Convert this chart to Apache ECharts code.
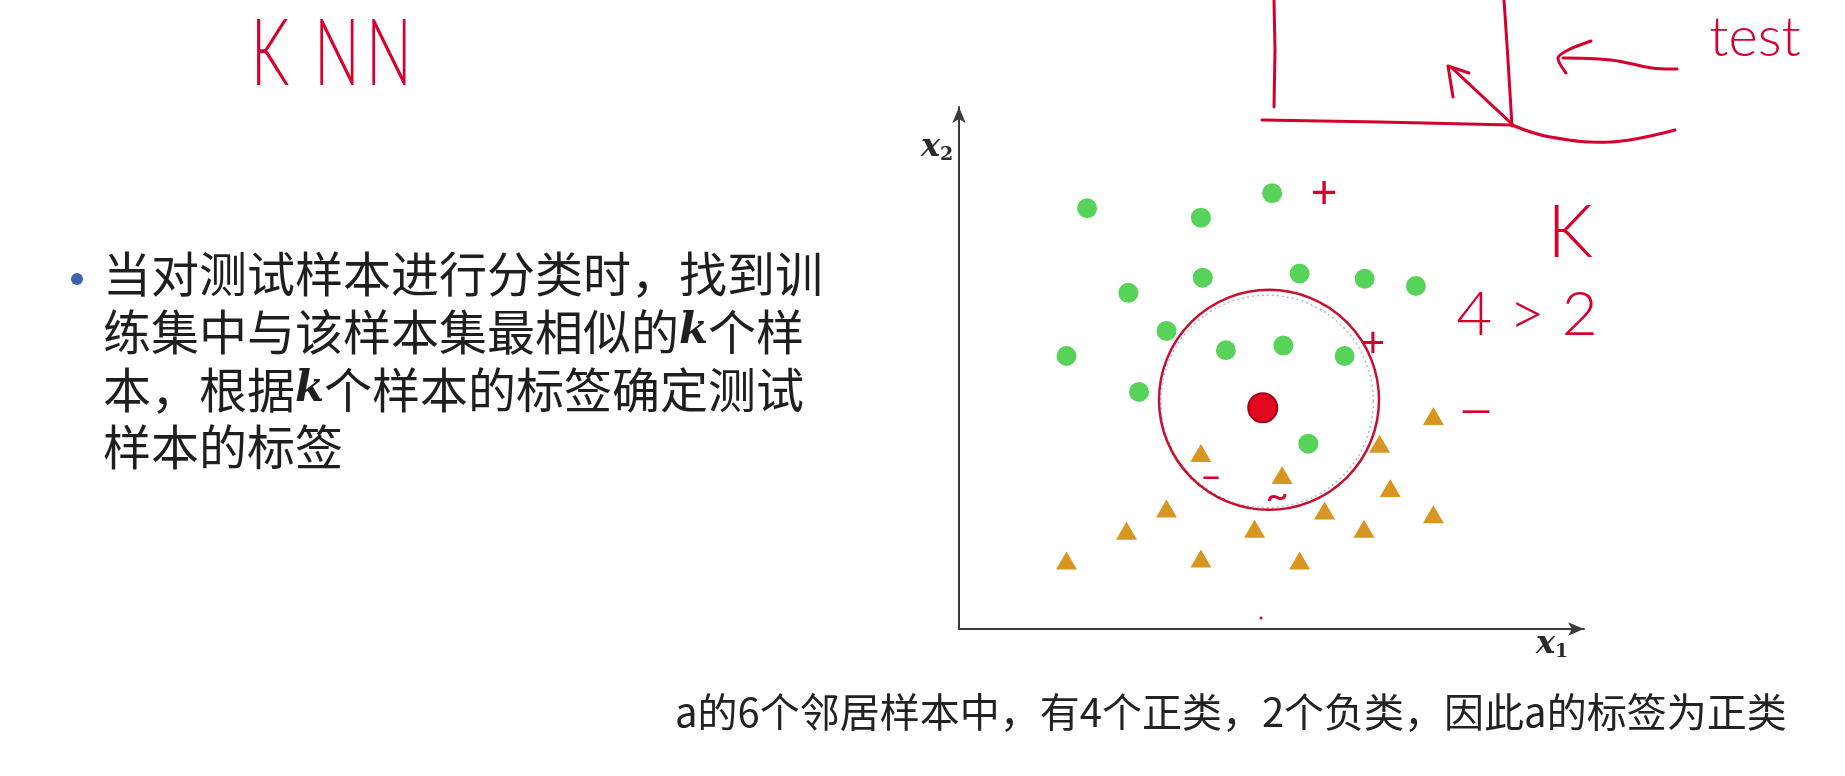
<!DOCTYPE html>
<html><head><meta charset="utf-8">
<script src="https://cdn.jsdelivr.net/npm/echarts@6/dist/echarts.min.js"></script>
<style>html,body{margin:0;padding:0;background:#fff;}#c{width:1845px;height:776px;}</style>
</head><body><div id="c"></div>
<script>
// ---- data (feature space x1, x2) ----
const positiveSamples = [
  [2.05,8.06],[3.87,7.88],[5.01,8.35],[2.71,6.44],[3.90,6.73],[5.45,6.81],[6.49,6.71],[7.31,6.57],
  [3.32,5.71],[1.72,5.23],[4.27,5.34],[5.19,5.43],[6.17,5.23],[2.88,4.54],[5.59,3.55]
];
const negativeSamples = [
  [7.59,4.08],[3.87,3.37],[6.73,3.55],[5.17,2.95],[6.90,2.70],[3.32,2.31],[5.85,2.27],
  [2.68,1.88],[4.73,1.92],[6.48,1.92],[7.59,2.20],[1.72,1.31],[3.87,1.35],[5.45,1.31]
];
const testSample = [[4.86,4.24]];
const neighbourCenter = [4.96,4.39];
const neighbourRadius = 1.76;
const dottedCenter = [4.93,4.36];
const dottedRadius = 1.70;

const bulletLines = [
  '当对测试样本进行分类时，找到训',
  '练集中与该样本集最相似的{k|k}个样',
  '本，根据{k|k}个样本的标签确定测试',
  '样本的标签'
];
const caption = 'a的6个邻居样本中，有4个正类，2个负类，因此a的标签为正类';

const RED = '#d6002d';
const chart = echarts.init(document.getElementById('c'), null, {renderer:'canvas'});

const axisCommon = {
  type:'value', min:0, max:10,
  axisLine:{show:true, onZero:false, symbol:['none','arrow'], symbolSize:[10,16], lineStyle:{color:'#3a3a3a', width:2}},
  axisTick:{show:false}, axisLabel:{show:false}, splitLine:{show:false}
};

chart.setOption({
  backgroundColor:'#ffffff',
  animation:false,
  grid:{left:959, top:107, width:625, height:522},
  xAxis:axisCommon,
  yAxis:axisCommon,
  series:[
    {type:'scatter', name:'+', data:positiveSamples, symbol:'circle', symbolSize:20, itemStyle:{color:'#58d35a', opacity:1}, z:3},
    {type:'scatter', name:'-', data:negativeSamples, symbol:'triangle', symbolSize:[21,18], itemStyle:{color:'#d8951f', opacity:1}, z:3},
    {type:'scatter', name:'test', data:testSample, symbol:'circle', symbolSize:29, itemStyle:{color:'#e2081f', borderColor:'#a8001a', borderWidth:2, opacity:1}, z:4}
  ]
});

const c1 = chart.convertToPixel({gridIndex:0}, neighbourCenter);
const e1 = chart.convertToPixel({gridIndex:0}, [neighbourCenter[0]+neighbourRadius, neighbourCenter[1]]);
const c2 = chart.convertToPixel({gridIndex:0}, dottedCenter);
const e2 = chart.convertToPixel({gridIndex:0}, [dottedCenter[0]+dottedRadius, dottedCenter[1]]);

const cjk = '"Noto Sans CJK SC", "Noto Sans", sans-serif';
const hand = 'Lato, "DejaVu Sans", sans-serif';
function stroke(points, smooth){
  return {type:'polyline', silent:true, z:10, shape:{points:points, smooth:smooth||0},
    style:{stroke:RED, lineWidth:3, fill:null, lineCap:'round', lineJoin:'round'}};
}
function handText(t, x, y, size, extra, weight){
  return Object.assign({type:'text', silent:true, z:10, x:x, y:y,
    style:{text:t, fill:RED, fontSize:size, fontFamily:hand, fontWeight:weight||300, align:'center', verticalAlign:'middle'}}, extra||{});
}

const lineYs = [274, 332, 390, 447];
const axisNameRich = {
  x:{fontFamily:'"DejaVu Serif", serif', fontStyle:'italic', fontWeight:'bold', fontSize:32, fill:'#2a2a2a'},
  s:{fontFamily:'"DejaVu Serif", serif', fontWeight:'bold', fontSize:19, fill:'#2a2a2a', padding:[14,0,0,0]}
};
const graphics = [
  {type:'circle', silent:true, z:2, shape:{cx:c2[0], cy:c2[1], r:e2[0]-c2[0]}, style:{fill:null, stroke:'#b3bad0', lineWidth:1.5, lineDash:[2,3]}},
  {type:'circle', silent:true, z:5, shape:{cx:c1[0], cy:c1[1], r:e1[0]-c1[0]}, style:{fill:null, stroke:'#c8102e', lineWidth:2.5}},
  // bullet
  {type:'circle', silent:true, shape:{cx:77, cy:279, r:6}, style:{fill:'#3d63ae'}},
  // axis names
  {type:'text', silent:true, x:921, y:148, style:{text:'{x|x}{s|2}', verticalAlign:'middle', rich:axisNameRich}},
  {type:'text', silent:true, x:1536, y:645, style:{text:'{x|x}{s|1}', verticalAlign:'middle', rich:axisNameRich}},
  // caption
  {type:'text', silent:true, x:675, y:712, style:{text:caption, fontFamily:cjk, fontSize:40, fill:'#222', verticalAlign:'middle'}},
  // handwriting strokes
  stroke([[1274,0],[1275,50],[1274,107]]),
  stroke([[1262,120],[1380,122],[1512,125]]),
  stroke([[1504,0],[1508,60],[1512,126]]),
  stroke([[1512,125],[1550,137],[1611,142],[1675,130]], 0.4),
  stroke([[1512,124],[1482,96],[1452,68]], 0.3),
  stroke([[1453,97],[1448,66],[1469,73]]),
  stroke([[1563,58],[1611,60],[1652,68],[1677,69]], 0.4),
  stroke([[1591,41],[1568,50],[1558,58],[1566,73]], 0.3),
  {type:'circle', silent:true, shape:{cx:1261, cy:618, r:1.5}, style:{fill:RED}},
  // handwriting text
  handText('K', 270, 55, 92, {scaleX:0.66}),
  handText('N', 337, 55, 92, {scaleX:0.66}),
  handText('N', 389, 55, 92, {scaleX:0.66}),
  handText('test', 1755, 38, 56),
  handText('+', 1324, 193, 46, null, 400),
  handText('K', 1570, 234, 72),
  handText('4 > 2', 1527, 315, 62),
  handText('+', 1373, 343, 42, null, 400),
  handText('—', 1476, 411, 40, null, 400),
  handText('–', 1211, 477, 38, null, 400),
  handText('~', 1277, 496, 40, null, 400)
];
bulletLines.forEach(function(t, i){
  graphics.push({type:'text', silent:true, x:103, y:lineYs[i], style:{text:t, fontFamily:cjk, fontSize:48, fill:'#1e1e1e', verticalAlign:'middle',
    rich:{k:{fontFamily:'"DejaVu Serif", serif', fontStyle:'italic', fontWeight:'bold', fontSize:42, fill:'#1e1e1e'}}}});
});
chart.setOption({graphic:graphics});
</script></body></html>
